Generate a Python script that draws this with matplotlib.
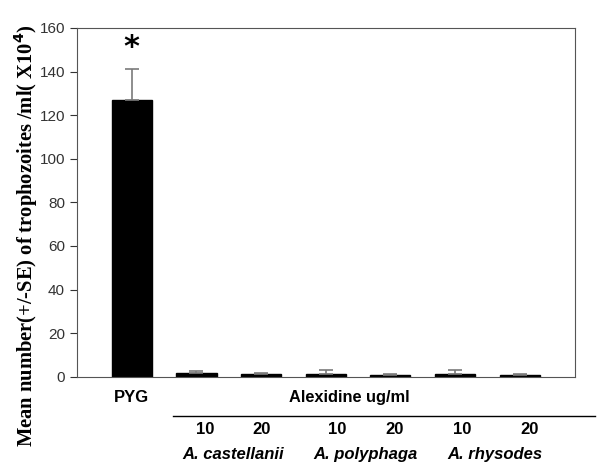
import matplotlib.pyplot as plt
import matplotlib.transforms as mtransforms

groups = ["PYG", "Ac 10", "Ac 20", "Ap 10", "Ap 20", "Ar 10", "Ar 20"]
means = [127, 1.8, 1.2, 1.5, 0.9, 1.5, 0.9]
errors = [14, 0.8, 0.6, 1.6, 0.5, 1.6, 0.5]
doses = ["10", "20", "10", "20", "10", "20"]
species = ["A. castellanii", "A. polyphaga", "A. rhysodes"]

fig = plt.figure(figsize=(6.01, 4.71), dpi=100)
ax = fig.add_axes([0.128, 0.2, 0.829, 0.7406])

x = list(range(len(groups)))
ax.bar(x, means, width=0.62, color="black", edgecolor="black")
ax.errorbar(x, means, yerr=[[0] * len(errors), errors], fmt="none",
            ecolor="#7a7a7a", elinewidth=1.2, capsize=5, capthick=1.2)

ax.set_xlim(-0.85, 6.86)
ax.set_ylim(0, 160)
ax.set_yticks(range(0, 161, 20))
ax.set_xticks([])
ax.tick_params(axis="y", direction="out", length=5, labelsize=11, colors="#333333")
for lbl in ax.get_yticklabels():
    lbl.set_fontfamily("Liberation Sans")
for s in ax.spines.values():
    s.set_color("#555555")

ax.text(0, means[0] + errors[0] + 10, "*", ha="center", va="center",
        fontsize=22, fontweight="bold")

fig.text(0.042, 0.5, "Mean number(+/-SE) of trophozoites /ml( X10$^\\mathbf{4}$)",
         family="Liberation Serif", fontweight="bold", fontsize=14.8,
         rotation=90, ha="center", va="center")

trans = mtransforms.blended_transform_factory(ax.transData, ax.transAxes)
sans = dict(family="Liberation Sans", fontweight="bold", ha="center", va="center",
            transform=trans, clip_on=False)
ax.text(0, -0.06, "PYG", fontsize=12, **sans)
ax.text(3.36, -0.06, "Alexidine ug/ml", fontsize=11.8, **sans)
ax.plot([0.63, 7.17], [-0.112, -0.112], color="black", lw=1,
        transform=trans, clip_on=False)
for xp, d in zip([1.13, 2.01, 3.17, 4.07, 5.11, 6.16], doses):
    ax.text(xp, -0.152, d, fontsize=12, **sans)
for xp, sp in zip([1.56, 3.61, 5.62], species):
    ax.text(xp, -0.224, sp, fontsize=12, style="italic", **sans)

fig.savefig("out.png", dpi=100)
